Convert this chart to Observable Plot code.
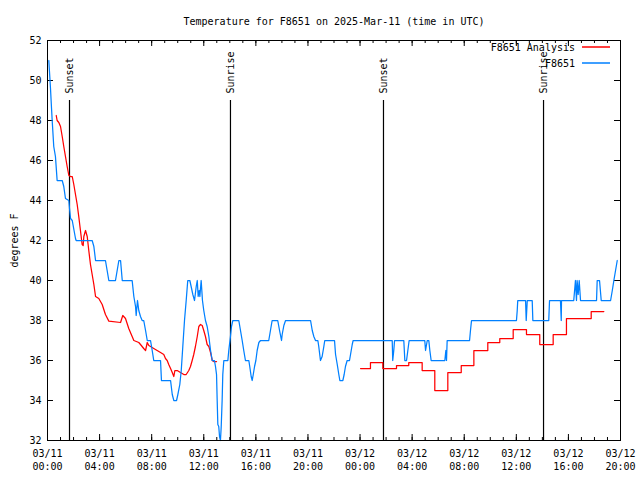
<!DOCTYPE html>
<html><head><meta charset="utf-8">
<script src="https://cdn.jsdelivr.net/npm/d3@7"></script>
<script src="https://cdn.jsdelivr.net/npm/@observablehq/plot@0.6"></script>
<style>
body{margin:0;background:#fff;}
#wrap{position:relative;width:640px;height:480px;font-family:"DejaVu Sans Mono",monospace;}
#wrap > svg{display:block;}
#legend{position:absolute;left:0;top:0;pointer-events:none;}
</style></head><body><div id="wrap"></div>
<script>
// hours after 2025-03-11 00:00 UTC, temperature (deg F)
const obsSeries = [[0.10,51],[0.23,49.6],[0.31,48.6],[0.36,48],[0.48,46.7],[0.61,46.2],[0.74,45],[1.13,45],[1.25,44.7],[1.38,44.1],[1.64,44],[1.69,43.6],[1.77,43.1],[1.90,43],[2.15,42.1],[2.20,42],[3.43,42],[3.56,41.7],[3.69,41],[4.45,41],[4.71,40],[5.22,40],[5.48,41],[5.61,41],[5.74,40],[6.50,40],[6.63,39.2],[6.76,38.7],[6.81,38.25],[6.91,39],[7.01,38.5],[7.14,38.2],[7.27,38],[7.39,38],[7.53,37.5],[7.66,37],[7.91,37],[8.04,36.5],[8.16,36],[8.68,36],[8.75,35],[9.45,35],[9.58,34.3],[9.70,34],[9.91,34],[10.01,34.3],[10.16,34.8],[10.27,35.5],[10.39,36.7],[10.52,38],[10.65,39],[10.77,40],[10.93,40],[11.03,39.7],[11.16,39.3],[11.29,39],[11.42,39.7],[11.50,40],[11.57,39.2],[11.65,39.5],[11.70,39.2],[11.80,40],[11.90,39],[12.00,38.5],[12.13,38],[12.26,37.7],[12.39,37.2],[12.52,36.5],[12.65,36],[12.82,36],[12.90,35.7],[12.98,35.3],[13.03,34],[13.08,32.8],[13.15,32.7],[13.21,32.2],[13.28,32],[13.34,32.7],[13.41,34],[13.46,35.3],[13.54,36],[13.85,36],[13.92,36.5],[14.05,37.2],[14.13,37.7],[14.23,38],[14.69,38],[14.82,37.5],[14.95,37],[15.07,36.5],[15.20,36],[15.46,36],[15.53,35.7],[15.64,35.2],[15.72,35],[15.80,35.3],[15.90,35.7],[16.00,36],[16.10,36.5],[16.23,36.9],[16.36,37],[16.99,37],[17.12,37.5],[17.25,38],[17.68,38],[17.82,37.5],[17.97,37],[18.02,37.3],[18.15,37.75],[18.28,38],[20.20,38],[20.33,37.5],[20.45,37.2],[20.58,37],[20.76,37],[20.83,36.7],[20.96,36],[21.09,36.2],[21.22,36.7],[21.29,37],[22.04,37],[22.12,36.3],[22.25,35.8],[22.37,35.3],[22.45,35],[22.68,35],[22.78,35.3],[22.88,35.7],[23.01,36],[23.19,36],[23.27,36.3],[23.40,36.8],[23.47,37],[26.47,37],[26.51,36],[26.59,36.5],[26.65,37],[27.36,37],[27.44,36],[27.57,36],[27.67,36.5],[27.77,37],[28.97,37],[29.03,36.5],[29.16,37],[29.28,37],[29.36,36.5],[29.46,36],[30.51,36],[30.59,36.5],[30.64,36],[30.69,37],[32.41,37],[32.48,37.5],[32.56,38],[36.01,38],[36.07,38.5],[36.11,39],[36.71,39],[36.76,38],[36.84,39],[37.22,39],[37.27,38],[38.49,38],[38.55,39],[39.39,39],[39.45,38],[39.47,39],[40.41,39],[40.54,40],[40.62,39],[40.67,40],[40.75,39.3],[40.83,40],[40.93,39],[42.16,39],[42.21,40],[42.39,40],[42.52,39],[43.24,39],[43.37,39.5],[43.49,40],[43.62,40.5],[43.75,41]];
const analysisPart1 = [[0.67,48.25],[0.74,48],[0.87,47.9],[1.00,47.7],[1.13,47.2],[1.25,46.7],[1.38,46.2],[1.51,45.7],[1.64,45.25],[1.77,45.2],[1.90,45.2],[2.02,44.8],[2.15,44.3],[2.28,43.8],[2.40,43.2],[2.53,42.5],[2.66,41.8],[2.74,41.75],[2.79,42.2],[2.92,42.5],[3.05,42.2],[3.17,41.5],[3.30,40.8],[3.43,40.3],[3.56,39.8],[3.69,39.2],[3.94,39.1],[4.20,38.8],[4.45,38.3],[4.71,37.97],[5.61,37.9],[5.78,38.25],[5.99,38.1],[6.24,37.6],[6.50,37.2],[6.63,37],[7.01,36.9],[7.14,36.8],[7.39,36.6],[7.53,36.5],[7.66,36.9],[7.78,36.75],[7.91,36.7],[8.16,36.6],[8.42,36.5],[8.68,36.4],[8.93,36.3],[9.06,36.1],[9.19,36],[9.31,35.8],[9.45,35.6],[9.58,35.4],[9.70,35.2],[9.78,35.5],[9.96,35.5],[10.21,35.4],[10.47,35.3],[10.65,35.3],[10.85,35.5],[10.98,35.7],[11.11,36],[11.23,36.3],[11.36,36.7],[11.50,37.2],[11.62,37.7],[11.75,37.8],[11.88,37.75],[12.00,37.5],[12.13,37.2],[12.26,36.8],[12.39,36.7],[12.52,36.4],[12.65,36],[12.77,35.95],[12.98,35.95]];
const analysisPart2 = [[24.04,35.6],[24.80,35.9],[25.75,35.6],[26.80,35.75],[27.74,35.9],[28.77,35.5],[29.74,34.5],[30.74,35.4],[31.77,35.75],[32.74,36.5],[33.81,36.9],[34.73,37.1],[35.76,37.55],[36.78,37.3],[37.80,36.8],[38.83,37.3],[39.85,38.1],[41.75,38.45],[42.72,38.45]];
const sunHours = [1.69, 14.05, 25.80, 38.09];
const sunLabels = ["Sunset", "Sunrise", "Sunset", "Sunrise"];
const yTicks = [32,34,36,38,40,42,44,46,48,50,52];
const xMajorHours = [0,4,8,12,16,20,24,28,32,36,40,44];
const xMinorHours = d3.range(0, 45, 1);
const titleText = "Temperature for F8651 on 2025-Mar-11 (time in UTC)";
const yLabel = "degrees F";
const seriesNames = ["F8651 Analysis", "F8651"];
const seriesColors = ["#ff0000", "#0080ff"];

const base = Date.UTC(2025, 2, 11);
const t = h => new Date(base + h * 3600e3);
const obs = obsSeries.map(([h, v]) => ({time: t(h), v}));
const ana1 = analysisPart1.map(([h, v]) => ({time: t(h), v}));
const ana2 = analysisPart2.map(([h, v]) => ({time: t(h), v}));
const sun = sunHours.map((h, i) => ({time: t(h), label: sunLabels[i]}));
const xMajor = xMajorHours.map(t);
const xMinor = xMinorHours.map(t);
const xDomain = [t(0), t(44)];
const hourPx = 573 / 44;
const yTickLen = 6 / hourPx; // hours

const fmt = d => {
  const p = n => String(n).padStart(2, "0");
  return `${p(d.getUTCMonth() + 1)}/${p(d.getUTCDate())}\n${p(d.getUTCHours())}:${p(d.getUTCMinutes())}`;
};

const chart = Plot.plot({
  width: 640, height: 480,
  marginLeft: 47, marginRight: 20, marginTop: 40, marginBottom: 40,
  style: {fontFamily: "'DejaVu Sans Mono', monospace", fontSize: "10px", background: "#fff", color: "#000"},
  x: {type: "utc", domain: xDomain},
  y: {domain: [32, 52]},
  marks: [
    Plot.axisX(xMajor, {anchor: "bottom", tickSize: 0, tickPadding: 7, tickFormat: fmt, lineHeight: 1.3, label: null, fontSize: 10}),
    Plot.axisY(yTicks, {anchor: "left", tickSize: 0, tickPadding: 6, label: yLabel, labelAnchor: "center", labelOffset: 37, labelArrow: "none", fontSize: 10}),
    Plot.ruleX(xMajor, {x: d => d, y1: 32, y2: 32.3, stroke: "#000"}),
    Plot.ruleX(xMajor, {x: d => d, y1: 52, y2: 51.7, stroke: "#000"}),
    Plot.ruleX(xMinor, {x: d => d, y1: 32, y2: 32.15, stroke: "#000"}),
    Plot.ruleX(xMinor, {x: d => d, y1: 52, y2: 51.85, stroke: "#000"}),
    Plot.ruleY(yTicks, {y: d => d, x1: t(0), x2: t(yTickLen), stroke: "#000"}),
    Plot.ruleY(yTicks, {y: d => d, x1: t(44), x2: t(44 - yTickLen), stroke: "#000"}),
    Plot.ruleX(sun, {x: "time", y1: 32, y2: 49, stroke: "#000", strokeWidth: 1.2}),
    Plot.text(sun, {x: "time", y: 49.35, text: "label", rotate: -90, textAnchor: "start", fontSize: 10, fill: "#000"}),
    Plot.line(ana1, {x: "time", y: "v", stroke: seriesColors[0], strokeWidth: 1.25}),
    Plot.line(ana2, {x: "time", y: "v", stroke: seriesColors[0], strokeWidth: 1.25, curve: "step-after"}),
    Plot.line(obs, {x: "time", y: "v", stroke: seriesColors[1], strokeWidth: 1.25}),
    Plot.text([titleText], {text: d => d, frameAnchor: "top", dy: -23, fontSize: 10, fill: "#000"}),
    Plot.frame({stroke: "#000"})
  ]
});

const wrap = document.getElementById("wrap");
wrap.appendChild(chart);

// legend overlay (top-right, inside the frame)
const NS = "http://www.w3.org/2000/svg";
const leg = document.createElementNS(NS, "svg");
leg.setAttribute("id", "legend");
leg.setAttribute("width", 640);
leg.setAttribute("height", 80);
seriesNames.forEach((name, i) => {
  const y = 47 + i * 16;
  const tx = document.createElementNS(NS, "text");
  tx.setAttribute("x", 575);
  tx.setAttribute("y", y + 4);
  tx.setAttribute("text-anchor", "end");
  tx.setAttribute("font-family", "'DejaVu Sans Mono', monospace");
  tx.setAttribute("font-size", 10);
  tx.setAttribute("fill", "#000");
  tx.textContent = name;
  leg.appendChild(tx);
  const sw = document.createElementNS(NS, "rect");
  sw.setAttribute("x", 582);
  sw.setAttribute("y", y - 0.75);
  sw.setAttribute("width", 28);
  sw.setAttribute("height", 1.5);
  sw.setAttribute("fill", seriesColors[i]);
  leg.appendChild(sw);
});
wrap.appendChild(leg);
</script></body></html>
